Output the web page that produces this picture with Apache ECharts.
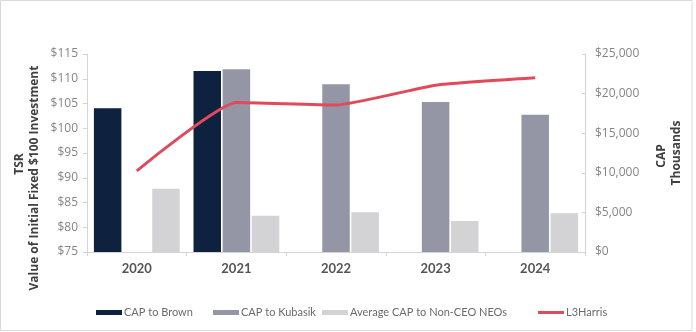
<!DOCTYPE html>
<html><head><meta charset="utf-8">
<script src="https://cdn.jsdelivr.net/npm/echarts@6/dist/echarts.min.js"></script>
<style>html,body{margin:0;padding:0;background:#fff}#c{width:696px;height:332px}</style>
</head><body><div id="c"></div>
<script>
const categories = ['2020','2021','2022','2023','2024'];
const capBrown = [18150, 22850, null, null, null];
const capKubasik = [null, 23070, 21170, 18940, 17340];
const capNonCEO = [7990, 4580, 5010, 3910, 4890];
const tsrL3Harris = [91.4, 105.2, 104.7, 108.7, 110.2];
const tsrTicks = {min: 75, max: 115, interval: 5};
const capTicks = {min: 0, max: 25000, interval: 5000};

const FONT = 'Lato';
const TICKFONT = 'Open Sans';
const chart = echarts.init(document.getElementById('c'));
function legendAt(name, left, icon, h) {
  return {
    data: [{name: name, icon: icon}], left: left, top: 307, itemWidth: 26, itemHeight: h,
    itemGap: 0, textStyle: {fontFamily: FONT, fontSize: 11, color: '#6b6b6b', padding: [0,0,0,-3]},
    padding: 0
  };
}
const axisLine = {show: true, lineStyle: {color: '#d4d4d4', width: 1}};
const titleFont = 'bold 12px "Open Sans"';
chart.setOption({
  animation: false,
  textStyle: {fontFamily: FONT},
  grid: {left: 87, right: 111, top: 54, bottom: 80},
  legend: [
    legendAt('CAP to Brown', 96, 'rect', 5),
    legendAt('CAP to Kubasik', 213, 'rect', 5),
    legendAt('Average CAP to Non-CEO NEOs', 322, 'rect', 5),
    legendAt('L3Harris', 538, 'rect', 3)
  ],
  xAxis: {
    type: 'category', data: categories,
    axisLine: axisLine,
    axisTick: {show: true, length: 4, lineStyle: {color: '#d4d4d4'}},
    axisLabel: {fontFamily: FONT, fontSize: 13, fontWeight: 'bold', color: '#555', margin: 10}
  },
  yAxis: [
    {
      type: 'value', min: tsrTicks.min, max: tsrTicks.max, interval: tsrTicks.interval,
      position: 'left', splitLine: {show: false},
      axisLine: axisLine,
      axisTick: {show: true, length: 4, lineStyle: {color: '#d4d4d4'}},
      axisLabel: {fontFamily: TICKFONT, fontSize: 12, color: '#858585', margin: 9, formatter: v => '$' + v}
    },
    {
      type: 'value', min: capTicks.min, max: capTicks.max, interval: capTicks.interval,
      position: 'right', splitLine: {show: false},
      axisLine: axisLine,
      axisTick: {show: true, length: 3, inside: true, lineStyle: {color: '#d4d4d4'}},
      axisLabel: {fontFamily: TICKFONT, fontSize: 12, color: '#858585', margin: 10,
        formatter: v => '$' + v.toLocaleString('en-US')}
    }
  ],
  graphic: [
    {type: 'rect', silent: true, shape: {x: 0.5, y: 0.5, width: 691.5, height: 330},
      style: {fill: 'none', stroke: '#d9d9d9', lineWidth: 1}},
    {type: 'text', x: 20, y: 164, rotation: Math.PI/2,
      style: {text: 'TSR', font: titleFont, fill: '#404040', textAlign: 'center', textVerticalAlign: 'middle'}},
    {type: 'text', x: 35, y: 178, rotation: Math.PI/2,
      style: {text: 'Value of Initial Fixed $100 Investment', font: titleFont, fill: '#404040', textAlign: 'center', textVerticalAlign: 'middle'}},
    {type: 'text', x: 662, y: 156, rotation: Math.PI/2,
      style: {text: 'CAP', font: titleFont, fill: '#404040', textAlign: 'center', textVerticalAlign: 'middle'}},
    {type: 'text', x: 677, y: 153, rotation: Math.PI/2,
      style: {text: 'Thousands', font: titleFont, fill: '#404040', textAlign: 'center', textVerticalAlign: 'middle'}}
  ],
  series: [
    {name: 'CAP to Brown', type: 'bar', yAxisIndex: 1, data: capBrown, barWidth: 27.5, barGap: '6%',
      itemStyle: {color: '#0E2240'}},
    {name: 'CAP to Kubasik', type: 'bar', yAxisIndex: 1, data: capKubasik, barWidth: 27.5, barGap: '6%',
      itemStyle: {color: '#9596A5'}},
    {name: 'Average CAP to Non-CEO NEOs', type: 'bar', yAxisIndex: 1, data: capNonCEO, barWidth: 27.5, barGap: '6%',
      itemStyle: {color: '#D3D3D6'}},
    {name: 'L3Harris', type: 'line', yAxisIndex: 0, data: tsrL3Harris, smooth: 0.15,
      showSymbol: false, symbol: 'none', z: 5,
      lineStyle: {color: '#E04A5B', width: 3}, itemStyle: {color: '#E04A5B'}}
  ]
});
</script></body></html>
